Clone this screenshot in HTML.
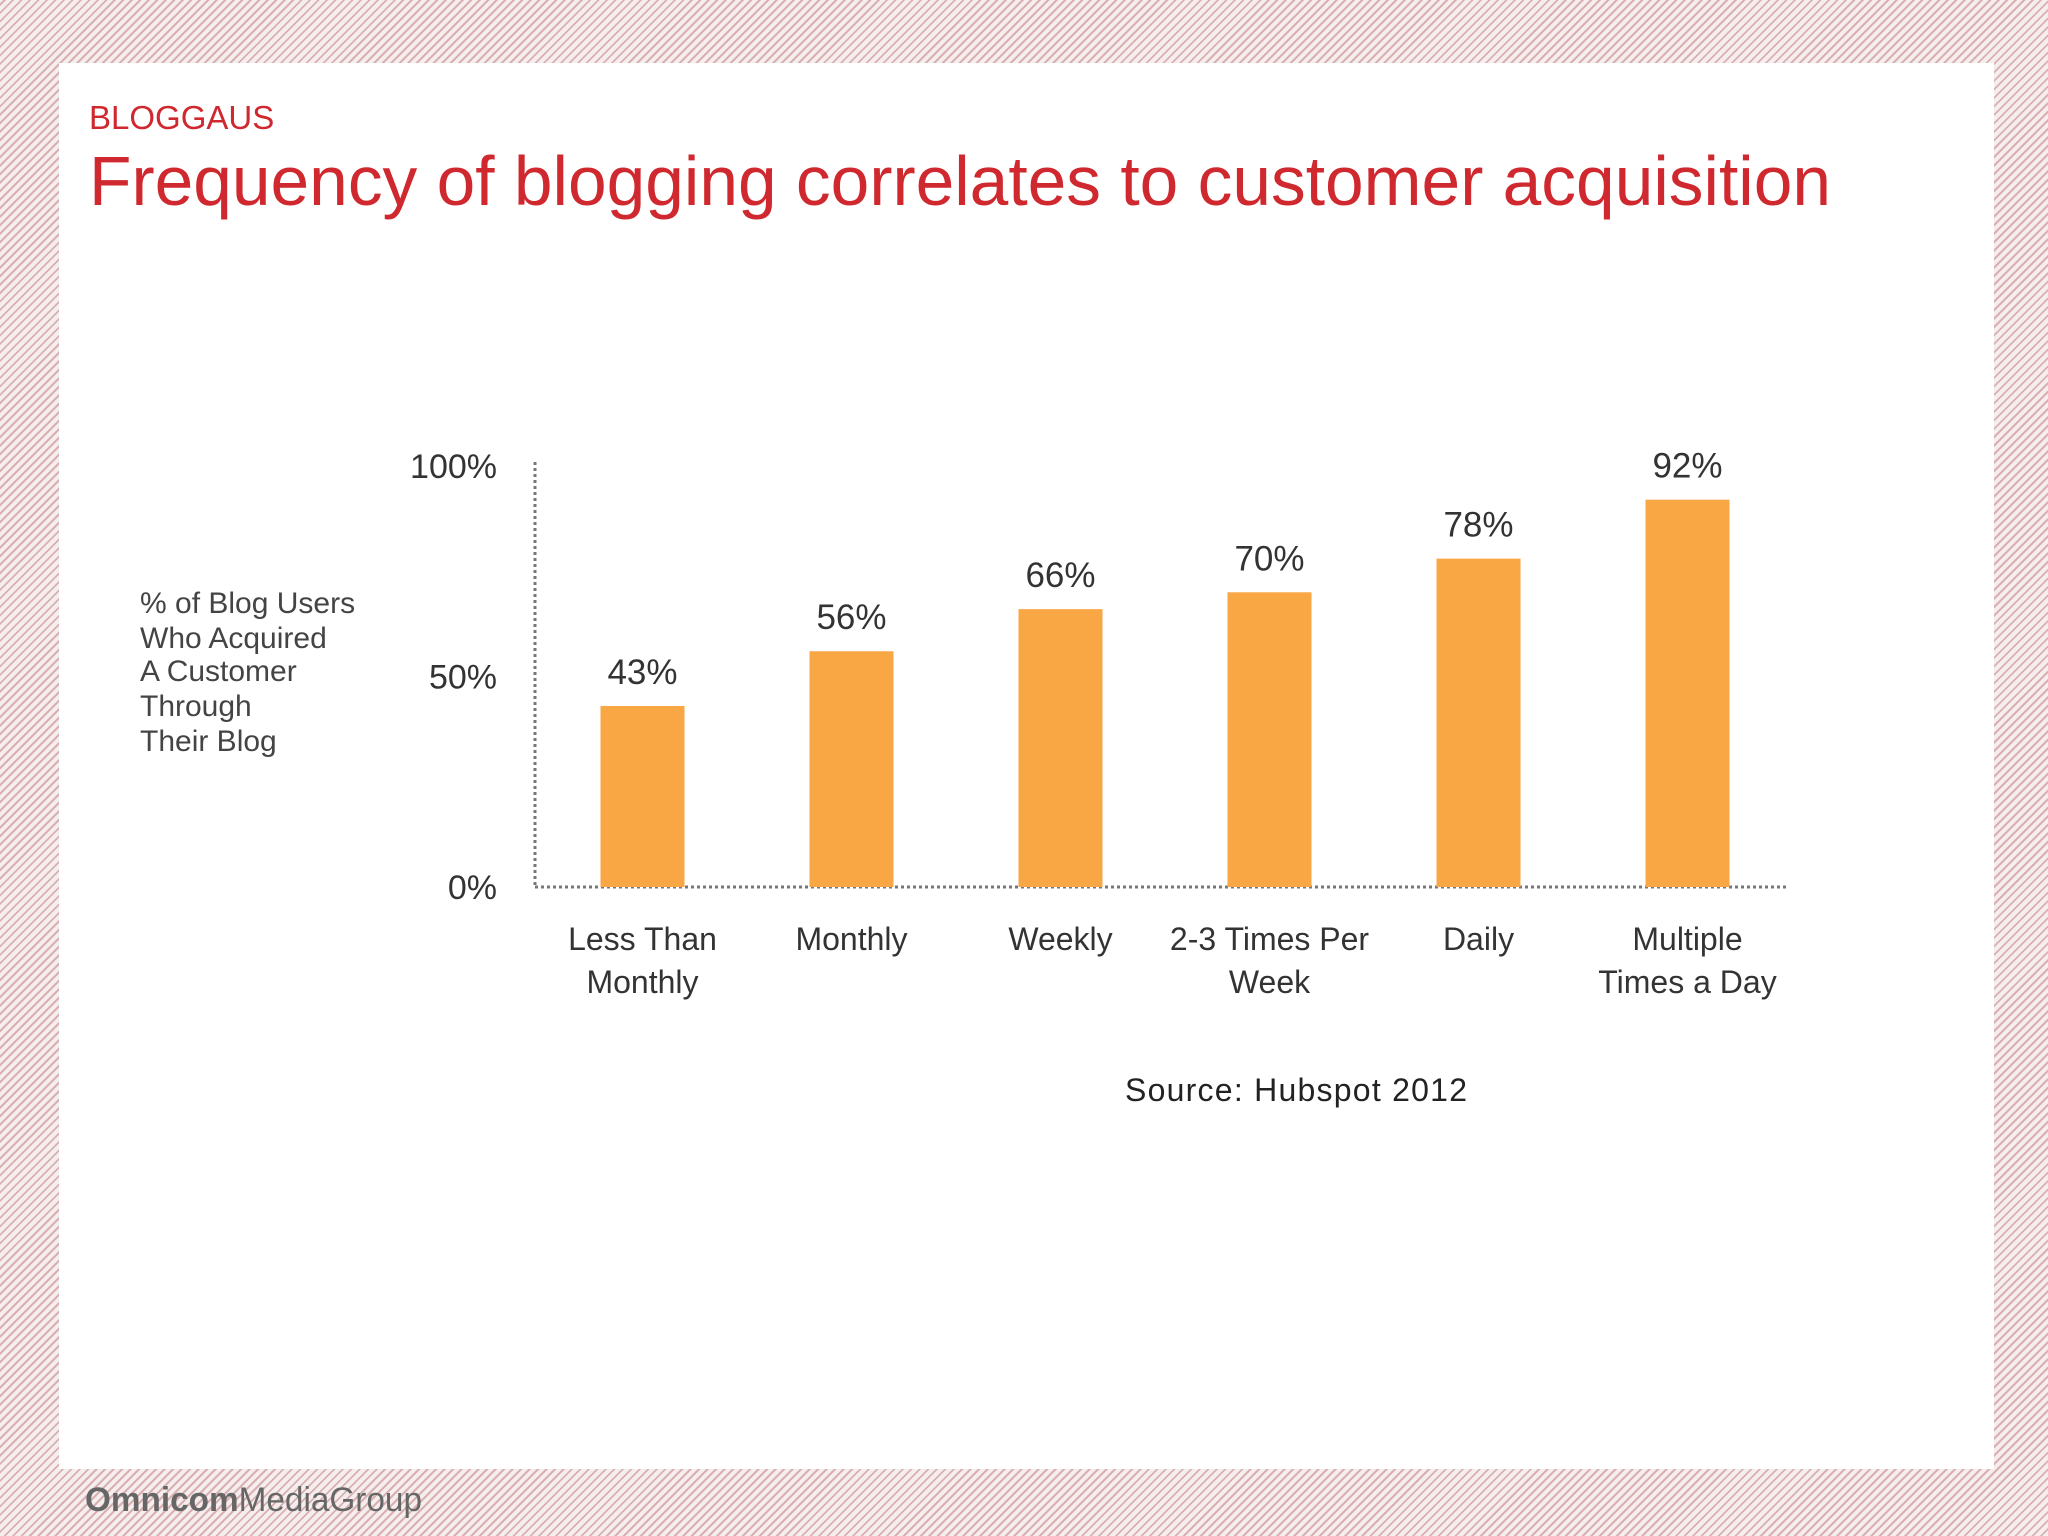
<!DOCTYPE html>
<html><head><meta charset="utf-8">
<style>
html,body{margin:0;padding:0;}
body{width:2048px;height:1536px;position:relative;overflow:hidden;
background:#f6ecec repeating-linear-gradient(-45deg,#f6eeee 0px,#f6eeee 4px,#d8b0b0 4px,#d8b0b0 6px);}
#panel{position:absolute;left:59px;top:63px;width:1935px;height:1406px;background:#fff;}
.t{position:absolute;font-family:"Liberation Sans",sans-serif;white-space:nowrap;}
</style></head>
<body>
<div id="panel"></div>
<div class="t" style="left:89px;top:99px;font-size:33px;color:#d0282f;">BLOGGAUS</div>
<svg style="position:absolute;left:0;top:0" width="2048" height="1536">
<text x="89" y="205" font-family="Liberation Sans, sans-serif" font-size="70" fill="#d0282f" textLength="1742" lengthAdjust="spacingAndGlyphs">Frequency of blogging correlates to customer acquisition</text>
<g id="plot"></g>
<g font-family="Liberation Sans, sans-serif" font-size="30" fill="#444">
<text x="140" y="613">% of Blog Users</text>
<text x="140" y="648">Who Acquired</text>
<text x="140" y="681">A Customer</text>
<text x="140" y="716">Through</text>
<text x="140" y="751">Their Blog</text>
</g>
<text x="1125" y="1101" font-family="Liberation Sans, sans-serif" font-size="32" fill="#222" textLength="342">Source: Hubspot 2012</text>
<text x="85" y="1511" font-family="Liberation Sans, sans-serif" font-size="34" fill="#666" textLength="337" lengthAdjust="spacingAndGlyphs"><tspan font-weight="bold">Omnicom</tspan>MediaGroup</text>
</svg>
<script>
const categories=[["Less Than","Monthly"],["Monthly"],["Weekly"],["2-3 Times Per","Week"],["Daily"],["Multiple","Times a Day"]];
const values=[43,56,66,70,78,92];
const yTicks=[0,50,100];
const yTickLabels=["0%","50%","100%"];
const NS="http://www.w3.org/2000/svg";
const g=document.getElementById('plot');
const x0=535,x1=1789,y0=887,yTop=466;
const y=v=>y0-(y0-yTop)*v/100;
const band=(x1-x0)/categories.length;
const xc=i=>x0+band*(i+0.5)+3;
function el(t,a){const e=document.createElementNS(NS,t);for(const k in a)e.setAttribute(k,a[k]);g.appendChild(e);return e;}
let ax=el('line',{x1:x0,y1:y0,x2:x1,y2:y0,stroke:'#777','stroke-width':3,'stroke-dasharray':'3 3'});

let ay=el('line',{x1:x0,y1:y(100)-4,x2:x0,y2:y0,stroke:'#777','stroke-width':3,'stroke-dasharray':'3 3'});

yTicks.forEach((v,i)=>{const t=el('text',{x:497,y:y(v)+12,'text-anchor':'end','font-family':'Liberation Sans, sans-serif','font-size':34,fill:'#333'});t.textContent=yTickLabels[i];
});
values.forEach((v,i)=>{
const r=el('rect',{x:xc(i)-42,y:y(v),width:84,height:y0-y(v),fill:'#f9a645'});

const t=el('text',{x:xc(i),y:y(v)-22,'text-anchor':'middle','font-family':'Liberation Sans, sans-serif','font-size':35,fill:'#333'});t.textContent=v+'%';

categories[i].forEach((s,j)=>{const c=el('text',{x:xc(i),y:950+j*43,'text-anchor':'middle','font-family':'Liberation Sans, sans-serif','font-size':32,fill:'#333'});c.textContent=s;
});
});
</script>
</body></html>
